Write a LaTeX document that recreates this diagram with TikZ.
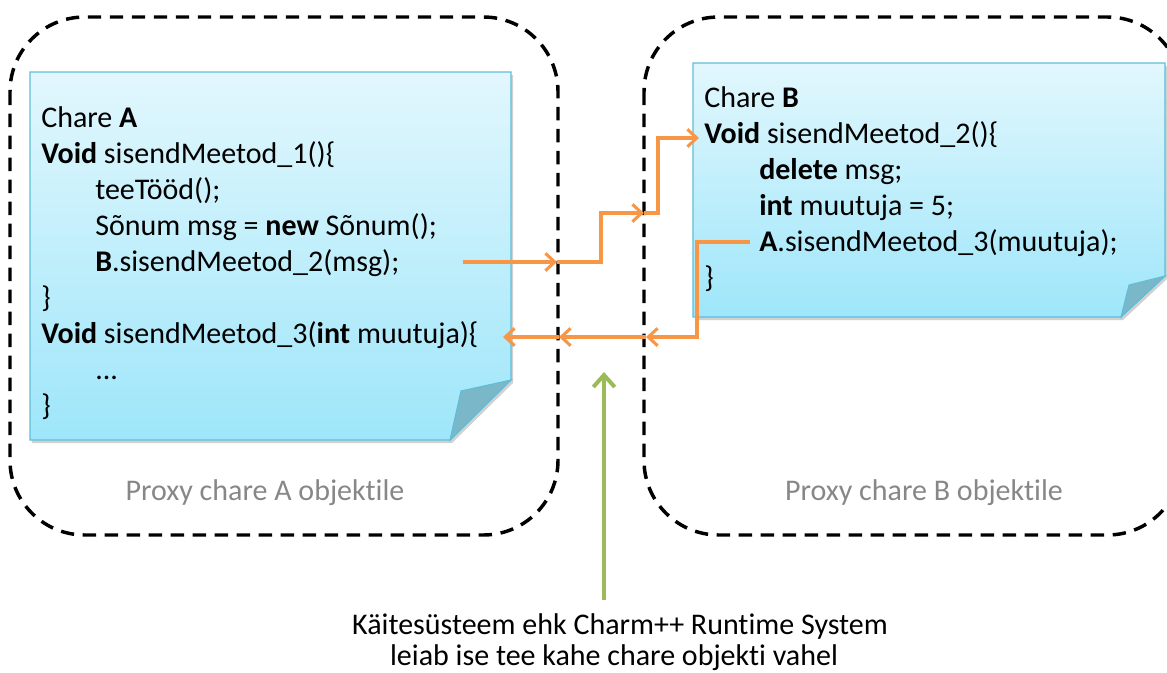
\documentclass[tikz,border=0pt]{standalone}
\usepackage{fontspec}
\setmainfont{Carlito}[Ligatures=NoCommon]
\usetikzlibrary{arrows.meta}
\definecolor{msgorange}{RGB}{247,150,70}
\definecolor{rtsgreen}{RGB}{155,187,89}
\definecolor{notetop}{RGB}{226,247,253}
\definecolor{notebot}{RGB}{158,230,250}
\definecolor{noteedge}{RGB}{95,190,215}
\definecolor{notefold}{RGB}{122,183,200}
\definecolor{proxygray}{RGB}{135,135,135}
\begin{document}
\begin{tikzpicture}[x=0.75pt,y=-0.75pt,
  proxy/.style={draw=black, line width=2.6pt, dash pattern=on 10pt off 6.5pt, rounded corners=56pt},
  code/.style={anchor=base west, inner sep=0pt, font=\fontsize{22.5}{27}\selectfont},
  proxytext/.style={anchor=base, inner sep=0pt, text=proxygray, font=\fontsize{22.5}{27}\selectfont},
  rtsline/.style={anchor=base, inner sep=0pt, font=\fontsize{22.5}{27}\selectfont},
  notefill/.style={top color=notetop, bottom color=notebot},
  noteline/.style={draw=noteedge, line width=0.8pt},
  foldtri/.style={fill=notefold, draw=noteedge, line width=0.8pt},
  notedrop/.style={fill=black, opacity=0.18},
  msg/.style={draw=msgorange, line width=2.3pt, line join=miter, -{Straight Barb[length=7pt,width=13pt,line width=2.3pt]}},
  rts/.style={draw=rtsgreen, line width=3pt, -{Straight Barb[length=9pt,width=16pt,line width=3pt]}}
]
\useasboundingbox (0,0) rectangle (1167,672);

% proxy regions around the two chares
\draw[proxy] (10,17) rectangle (558,535);
\draw[proxy] (644,17) rectangle (1182,535);
\node[proxytext] (proxyA) at (265,500) {Proxy chare A objektile};
\node[proxytext] (proxyB) at (924,500) {Proxy chare B objektile};

% note for chare A
\fill[notedrop] (32,75) -- (513,75) -- (513,383) -- (452,443) -- (32,443) -- cycle;
\shade[notefill] (30,72) -- (511,72) -- (511,380) -- (450,440) -- (30,440) -- cycle;
\draw[noteline] (30,72) -- (511,72) -- (511,380) -- (450,440) -- (30,440) -- cycle;
\filldraw[foldtri] (450,440) -- (461,391) -- (511,380) -- cycle;

% note for chare B
\fill[notedrop] (695,66) -- (1167,66) -- (1167,279) -- (1123,320) -- (695,320) -- cycle;
\shade[notefill] (693,63) -- (1165,63) -- (1165,276) -- (1121,317) -- (693,317) -- cycle;
\draw[noteline] (693,63) -- (1165,63) -- (1165,276) -- (1121,317) -- (693,317) -- cycle;
\filldraw[foldtri] (1121,317) -- (1129,285) -- (1165,276) -- cycle;

% code of chare A
\node[code] (a1) at (41,127) {Chare \textbf{A}};
\node[code] (a2) at (41,163) {\textbf{Void} sisendMeetod\_1()\{};
\node[code] (a3) at (95,199) {teeTööd();};
\node[code] (a4) at (95,235) {Sõnum msg = \textbf{new} Sõnum();};
\node[code] (a5) at (95,271) {\textbf{B}.sisendMeetod\_2(msg);};
\node[code] (a6) at (41,307) {\}};
\node[code] (a7) at (41,343) {\textbf{Void} sisendMeetod\_3(\textbf{int} muutuja)\{};
\node[code] (a8) at (95,379) {...};
\node[code] (a9) at (41,415) {\}};

% code of chare B
\node[code] (b1) at (704,107) {Chare \textbf{B}};
\node[code] (b2) at (704,143) {\textbf{Void} sisendMeetod\_2()\{};
\node[code] (b3) at (759,179) {\textbf{delete} msg;};
\node[code] (b4) at (759,215) {\textbf{int} muutuja = 5;};
\node[code] (b5) at (759,251) {\textbf{A}.sisendMeetod\_3(muutuja);};
\node[code] (b6) at (704,287) {\}};

% message A -> B
\coordinate (s1) at (463,262);
\coordinate (s2) at (557,262);
\coordinate (s3) at (644,213);
\coordinate (s4) at (699,138);
\draw[msg] (s1) -- (s2);
\draw[msg] (s2) -- (601,262) -- (601,213) -- (s3);
\draw[msg] (s3) -- (658,213) -- (658,138) -- (s4);

% message B -> A
\coordinate (r1) at (750,242);
\coordinate (r2) at (646,337);
\coordinate (r3) at (559,337);
\coordinate (r4) at (503,337);
\draw[msg] (r1) -- (697,242) -- (697,337) -- (r2);
\draw[msg] (r2) -- (r3);
\draw[msg] (r3) -- (r4);

% runtime system
\node[rtsline] (rts1) at (620,634) {Käitesüsteem ehk Charm++ Runtime System};
\node[rtsline] (rts2) at (614,665) {leiab ise tee kahe chare objekti vahel};
\coordinate (g1) at (604,600);
\coordinate (g2) at (604,372);
\draw[rts] (g1) -- (g2);
\end{tikzpicture}
\end{document}
